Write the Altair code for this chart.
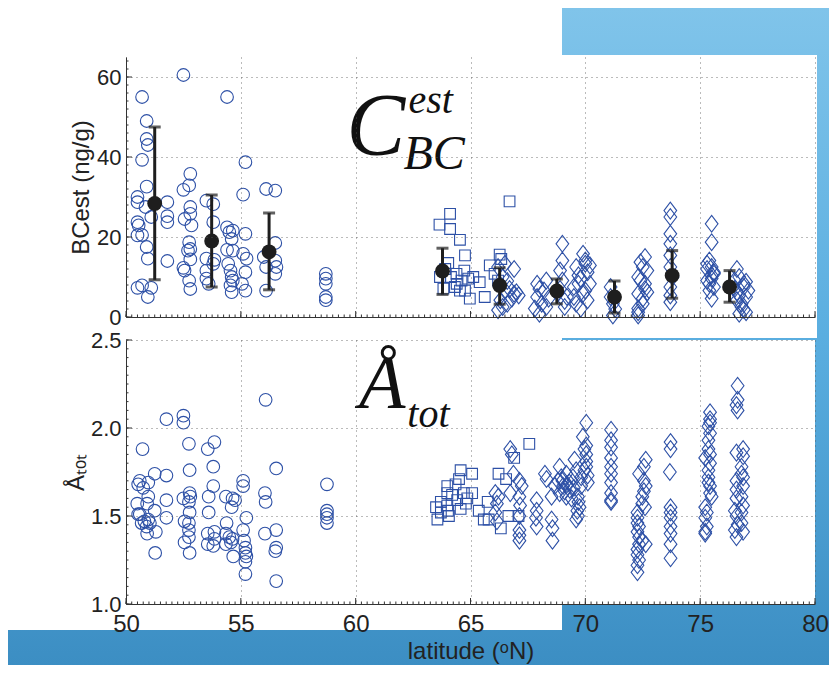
import altair as alt
import pandas as pd
import numpy as np

BLUE = "#2d50a6"
DARK = "#1e1e1e"

# ---------------- top panel (BCest, ng/g) ----------------
c_top_lat = [50.7, 52.5, 54.4, 50.9, 50.9, 50.95, 50.7, 50.9, 50.5, 50.5, 50.85, 51.1, 51.8, 51.8, 51.8,
             50.5, 50.55, 50.5, 50.7, 50.9, 50.95, 51.8, 50.5, 50.7, 51.1, 50.95,
             52.5, 52.8, 52.75, 52.8, 52.8, 52.55, 52.85, 52.75, 52.8, 52.7, 52.8, 52.5, 52.55, 52.75, 52.8,
             53.5, 53.8, 53.8, 53.5, 53.85, 53.8, 53.5, 53.5, 53.6,
             54.4, 54.5, 54.65, 54.6, 54.4, 54.65, 54.45, 54.55, 54.6, 54.65, 54.55, 54.6,
             55.2, 55.1, 55.2, 55.1, 55.25, 55.2, 55.05, 55.2,
             56.1, 56.5, 56.5, 56.0, 56.5, 56.55, 56.1, 56.5, 56.1,
             58.7, 58.7, 58.7, 58.7, 58.7]
c_top_val = [55.0, 60.5, 55.0, 49.0, 44.5, 43.0, 39.3, 32.6, 30.0, 28.7, 27.5, 25.0, 28.7, 25.2, 23.7,
             23.7, 22.9, 20.4, 20.5, 17.5, 14.6, 14.0, 7.3, 7.9, 7.3, 5.0,
             31.8, 35.8, 32.9, 27.5, 25.8, 24.5, 22.9, 18.7, 17.0, 16.6, 14.4, 12.3, 11.6, 9.1, 7.0,
             29.1, 28.2, 23.7, 14.6, 14.3, 13.3, 11.6, 9.6, 8.3,
             22.4, 21.2, 21.6, 19.5, 16.8, 16.6, 13.3, 11.6, 10.0, 9.1, 7.9, 6.2,
             38.7, 30.6, 20.8, 15.8, 14.6, 11.2, 8.3, 6.6,
             32.0, 31.6, 18.5, 15.0, 14.1, 12.5, 12.5, 10.8, 6.6,
             10.8, 9.6, 8.3, 5.0, 4.2]

s_top_lat = [66.7, 64.11, 63.65, 64.11, 64.54, 64.76, 64.03, 64.73, 64.39, 64.15, 64.61, 65.12, 63.82, 64.54,
             64.97, 65.62, 65.84, 66.27, 66.34, 65.4, 66.2, 63.67, 64.32, 64.76, 66.05, 63.9, 64.4, 64.9]
s_top_val = [28.9, 25.8, 23.1, 22.0, 19.3, 15.4, 13.5, 11.6, 10.8, 10.0, 9.1, 10.0, 7.1, 6.6,
             4.6, 5.0, 12.9, 15.6, 14.5, 8.7, 9.1, 10.0, 7.5, 6.6, 10.8, 12.0, 8.3, 9.6]

d_top_lat = [66.2, 66.5, 66.9, 66.4, 66.6, 66.3, 66.7, 66.5, 66.9, 67.1, 66.3, 66.6, 66.2, 66.8, 67.0, 66.4,
             67.9, 68.3, 67.9, 68.0, 68.2, 68.1, 67.8, 68.4, 68.0, 68.3,
             69.0, 69.0, 68.9, 69.0, 69.2, 69.1, 68.9, 69.1, 68.8,
             69.9, 70.0, 69.6, 70.1, 69.8, 69.5, 70.2, 69.9, 69.6, 70.1, 69.7, 70.0, 69.8, 70.2, 69.5, 70.0, 69.7,
             71.1, 71.2, 71.2, 71.1, 71.3,
             72.6, 72.5, 72.3, 72.6, 72.3, 72.5, 72.3, 72.7, 72.4, 72.6, 72.3, 72.5, 72.4, 72.7, 72.3,
             73.7, 73.7, 73.7, 73.7, 73.7, 73.7, 73.7, 73.7, 73.8, 73.7,
             75.5, 75.5, 75.4, 75.5, 75.5, 75.3, 75.6, 75.5, 75.4, 75.3, 75.6, 75.4, 75.5, 75.6, 75.3,
             76.6, 76.7, 76.9, 76.6, 77.0, 76.8, 76.7, 77.0, 76.5, 76.9, 76.6, 77.1, 76.8, 76.5, 77.0, 76.7, 76.9]
d_top_val = [12.5, 13.3, 12.0, 10.0, 9.0, 8.0, 7.0, 6.6, 5.8, 5.4, 4.2, 3.3, 1.7, 4.6, 6.2, 2.5,
             8.3, 9.1, 5.0, 0.8, 6.6, 3.3, 2.1, 4.6, 7.0, 2.5,
             18.3, 14.1, 11.6, 9.1, 5.0, 2.5, 7.0, 4.0, 6.0,
             15.8, 14.1, 12.5, 11.2, 9.6, 7.5, 8.3, 5.8, 3.3, 4.2, 10.4, 6.6, 2.1, 12.9, 5.0, 13.3, 8.3,
             7.5, 3.3, 0.4, 5.0, 2.0,
             15.0, 12.5, 10.0, 8.3, 5.8, 3.3, 0.4, 11.6, 13.7, 7.0, 2.1, 4.6, 9.1, 6.2, 1.2,
             26.6, 25.0, 20.8, 18.3, 15.4, 12.5, 7.5, 3.7, 10.0, 5.4,
             23.3, 18.7, 14.1, 12.5, 10.4, 9.1, 7.5, 4.6, 6.6, 13.3, 11.2, 8.3, 9.6, 10.8, 12.0,
             12.0, 10.0, 7.5, 6.2, 5.0, 2.5, 0.8, 1.2, 9.1, 8.3, 4.2, 6.6, 3.3, 7.0, 8.8, 5.4, 1.8]

mean_lat = [51.25, 53.73, 56.23, 63.78, 66.27, 68.76, 71.27, 73.78, 76.28]
mean_bc = [28.4, 19.0, 16.3, 11.5, 7.9, 6.5, 5.0, 10.4, 7.5]
err_hi = [47.5, 30.5, 26.0, 17.2, 12.3, 9.5, 9.0, 16.6, 11.6]
err_lo = [9.3, 7.5, 6.8, 5.65, 3.2, 3.3, 1.0, 4.7, 3.7]

# ---------------- bottom panel (A_tot) ----------------
c_bot_lat = [50.72, 51.76, 52.5, 52.5, 52.74, 53.56, 53.85, 53.8, 56.08, 56.54, 51.25, 51.76, 52.77,
             50.53, 50.6, 50.75, 50.97, 50.97, 50.92, 51.25, 50.49, 50.53, 50.6, 50.68, 50.8, 50.97, 50.9,
             51.04, 50.92, 51.3, 51.27, 51.76, 51.76, 52.5, 52.77, 52.8, 52.74, 52.77, 52.55, 52.74, 52.74,
             52.74, 52.55, 52.77, 53.6, 53.6, 53.56, 53.56, 53.8, 53.85, 53.85, 53.8, 54.35, 54.64, 54.75,
             54.6, 54.38, 54.35, 54.5, 54.57, 54.64, 54.35, 54.67, 55.1, 55.1, 55.24, 55.1, 55.14, 55.2,
             55.2, 55.24, 55.2, 55.2, 56.05, 56.08, 56.05, 56.54, 56.54, 56.5, 56.54,
             58.75, 58.75, 58.75, 58.75, 58.75]
c_bot_val = [1.88, 2.05, 2.07, 2.03, 1.91, 1.88, 1.92, 1.78, 2.16, 1.77, 1.74, 1.73, 1.76,
             1.68, 1.70, 1.66, 1.69, 1.61, 1.57, 1.53, 1.57, 1.51, 1.51, 1.46, 1.47, 1.48, 1.44,
             1.46, 1.40, 1.41, 1.29, 1.59, 1.49, 1.60, 1.63, 1.61, 1.58, 1.52, 1.47, 1.46, 1.42,
             1.38, 1.35, 1.29, 1.61, 1.52, 1.40, 1.34, 1.67, 1.41, 1.37, 1.33, 1.61, 1.60, 1.59,
             1.55, 1.46, 1.40, 1.38, 1.35, 1.37, 1.34, 1.27, 1.70, 1.67, 1.49, 1.42, 1.36, 1.32,
             1.29, 1.27, 1.24, 1.17, 1.63, 1.58, 1.40, 1.42, 1.32, 1.30, 1.13,
             1.68, 1.53, 1.51, 1.49, 1.46]

s_bot_lat = [67.56, 63.56, 64.06, 63.71, 63.99, 63.99, 63.99, 64.02, 64.35, 64.57, 64.5, 64.42, 64.71,
             64.86, 65.07, 65.07, 65.36, 65.58, 65.79, 65.75, 66.22, 66.32, 66.55, 66.65, 66.9, 67.09,
             63.71, 64.57, 63.5, 64.2, 64.8]
s_bot_val = [1.91, 1.48, 1.50, 1.58, 1.67, 1.63, 1.56, 1.53, 1.68, 1.76, 1.71, 1.59, 1.63,
             1.60, 1.74, 1.63, 1.53, 1.48, 1.48, 1.58, 1.74, 1.43, 1.71, 1.50, 1.83, 1.50,
             1.52, 1.54, 1.55, 1.62, 1.57]

d_bot_lat = [66.08, 66.15, 66.08, 66.15, 66.22,
             66.73, 66.8, 66.73, 66.87,
             67.13, 67.23, 67.13, 67.16, 67.13, 67.13, 67.13, 67.13,
             67.88, 67.88, 67.85, 67.88,
             68.24, 68.31, 68.53, 68.53, 68.57, 68.57,
             68.88, 68.81, 69.03, 69.17, 69.32, 69.46, 69.53, 69.68, 69.75, 69.6, 69.68, 68.88, 69.17, 68.67,
             69.82, 69.82, 69.0, 69.3, 69.1, 69.5, 69.4, 68.95, 69.2, 69.6, 69.7, 69.65,
             70.04, 69.89, 70.04, 70.04, 70.04, 70.11, 69.96, 70.04, 69.96, 70.1,
             71.12, 71.12, 71.12, 71.12, 71.12, 71.12, 71.12, 71.12, 71.12, 71.12,
             72.63, 72.34, 72.55, 72.63, 72.48, 72.27, 72.27, 72.27, 72.34, 72.27, 72.34, 72.27, 72.63,
             72.48, 72.55, 72.27, 72.34, 72.27, 72.55, 72.48, 72.27, 72.34, 72.6,
             73.71, 73.71, 73.68, 73.71, 73.71, 73.71, 73.71, 73.71, 73.71, 73.71,
             75.43, 75.43, 75.36, 75.43, 75.36, 75.22, 75.43, 75.36, 75.43, 75.5, 75.22, 75.22, 75.29,
             75.22, 75.43, 75.36, 75.43, 75.36, 75.43, 75.29, 75.36, 75.22,
             76.63, 76.63, 76.58, 76.63, 76.58, 76.87, 76.8, 76.87, 76.58, 76.58, 76.8, 76.87, 76.51,
             76.58, 76.8, 76.51, 76.87, 76.58, 76.8, 76.87, 76.58, 76.8, 76.63, 76.87]
d_bot_val = [1.63, 1.57, 1.52, 1.47, 1.61,
             1.88, 1.85, 1.63, 1.74,
             1.70, 1.67, 1.61, 1.56, 1.50, 1.42, 1.39, 1.36,
             1.59, 1.53, 1.49, 1.44,
             1.74, 1.71, 1.61, 1.48, 1.43, 1.36,
             1.78, 1.70, 1.67, 1.74, 1.65, 1.72, 1.82, 1.61, 1.55, 1.48, 1.50, 1.63, 1.61, 1.67,
             1.72, 1.67, 1.70, 1.69, 1.64, 1.66, 1.60, 1.72, 1.68, 1.76, 1.58, 1.53,
             2.03, 1.95, 1.90, 1.81, 1.78, 1.69, 1.88, 1.85, 1.76, 1.73,
             1.99, 1.93, 1.89, 1.83, 1.78, 1.74, 1.69, 1.63, 1.58, 1.59,
             1.82, 1.74, 1.70, 1.67, 1.61, 1.52, 1.46, 1.41, 1.34, 1.31, 1.25, 1.18, 1.34,
             1.57, 1.78, 1.49, 1.38, 1.28, 1.64, 1.36, 1.22, 1.44, 1.55,
             1.92, 1.88, 1.75, 1.55, 1.49, 1.44, 1.40, 1.34, 1.26, 1.52,
             2.09, 2.05, 2.01, 1.97, 1.88, 1.83, 1.80, 1.72, 1.67, 1.61, 1.55, 1.49, 1.44,
             1.40, 2.03, 1.93, 1.85, 1.76, 1.63, 1.52, 1.69, 1.41,
             2.24, 2.16, 2.13, 2.10, 1.86, 1.88, 1.78, 1.72, 1.70, 1.65, 1.61, 1.56, 1.53,
             1.50, 1.46, 1.42, 1.41, 1.38, 1.74, 1.67, 1.60, 1.52, 1.45, 1.84]

# axis ticks
x_major = [50, 55, 60, 65, 70, 75, 80]
x_minor = list(np.arange(50, 80.01, 0.25))
y1_major = [0, 20, 40, 60]
y1_minor = list(np.arange(0, 65.01, 2))
y2_major = [1.0, 1.5, 2.0, 2.5]
y2_minor = list(np.arange(1.0, 2.501, 0.05))

# annotation text
ann_top = pd.DataFrame({"lat": [59.6, 62.3, 62.08], "val": [40.8, 51.0, 37.1],
                        "txt": ["C", "est", "BC"], "fs": [88, 40, 48]})
ann_bot = pd.DataFrame({"lat": [60.15, 62.25], "val": [2.114, 2.006],
                        "txt": ["Å", "tot"], "fs": [76, 40]})

W, H1, H2 = 689, 260, 264
FONT = "Liberation Sans"
xs = alt.Scale(domain=[50, 80], nice=False, zero=False)
y1s = alt.Scale(domain=[0, 65], nice=False)
y2s = alt.Scale(domain=[1.0, 2.5], nice=False)
DIAMOND = "M-0.76,0L0,-1L0.76,0L0,1Z"

def df(lat, val):
    return pd.DataFrame({"lat": lat, "val": val})

one = pd.DataFrame({"k": [0]})

def ax_x(show):
    if show:
        return alt.Axis(values=x_major, grid=True, ticks=False, labels=True, title="latitude (ᵒN)",
                        labelFontSize=24, titleFontSize=24, labelPadding=8, titlePadding=3,
                        labelFlush=False, zindex=1)
    return alt.Axis(values=x_major, grid=True, ticks=False, labels=False, title=None, zindex=1)

def ax_y(vals, title, fmt, tpad):
    return alt.Axis(values=vals, grid=True, ticks=False, title=title, format=fmt,
                    labelFontSize=22, titleFontSize=24, labelPadding=5, titlePadding=tpad,
                    labelFlush=False, zindex=1)

# decorative background panels (slide look)
bg_grad = alt.Chart(one).mark_rect(
    fill=alt.Gradient(gradient="linear",
                      stops=[alt.GradientStop(color="#80c4ea", offset=0),
                             alt.GradientStop(color="#5aaee0", offset=0.5),
                             alt.GradientStop(color="#3c8ec3", offset=1)],
                      x1=0, x2=0, y1=0, y2=1)
).encode(x=alt.value(-118), x2=alt.value(703), y=alt.value(-49), y2=alt.value(608))
bg_white1 = alt.Chart(one).mark_rect(fill="white").encode(
    x=alt.value(-118), x2=alt.value(436), y=alt.value(-49), y2=alt.value(573))
bg_white2 = alt.Chart(one).mark_rect(fill="white").encode(
    x=alt.value(430), x2=alt.value(691), y=alt.value(-2), y2=alt.value(281))

def tick_layers(H, ymin, ymaj, ys):
    xm = alt.Chart(pd.DataFrame({"t": x_minor})).mark_rule(color="#333", strokeWidth=1).encode(
        x=alt.X("t:Q", scale=xs), y=alt.value(H), y2=alt.value(H - 2.5))
    xM = alt.Chart(pd.DataFrame({"t": x_major})).mark_rule(color="#333", strokeWidth=1).encode(
        x=alt.X("t:Q", scale=xs), y=alt.value(H), y2=alt.value(H - 6))
    ym = alt.Chart(pd.DataFrame({"t": ymin})).mark_rule(color="#333", strokeWidth=1).encode(
        y=alt.Y("t:Q", scale=ys), x=alt.value(0), x2=alt.value(2.5))
    yM = alt.Chart(pd.DataFrame({"t": ymaj})).mark_rule(color="#333", strokeWidth=1).encode(
        y=alt.Y("t:Q", scale=ys), x=alt.value(0), x2=alt.value(6))
    return [xm, xM, ym, yM]

def pts(data, shape, size, ys, yax, xax):
    return alt.Chart(data).mark_point(shape=shape, filled=False, size=size, color=BLUE,
                                      strokeWidth=1.1, opacity=1).encode(
        x=alt.X("lat:Q", scale=xs, axis=xax),
        y=alt.Y("val:Q", scale=ys, axis=yax))

# ---- top ----
yax1 = ax_y(y1_major, "BCest (ng/g)", "d", 3)
xax1 = ax_x(False)
top_c = pts(df(c_top_lat, c_top_val), "circle", 160, y1s, yax1, xax1)
top_s = pts(df(s_top_lat, s_top_val), "square", 115, y1s, yax1, xax1)
top_d = pts(df(d_top_lat, d_top_val), DIAMOND, 280, y1s, yax1, xax1)

means = pd.DataFrame({"lat": mean_lat, "val": mean_bc, "lo": err_lo, "hi": err_hi})
eb = alt.Chart(means).mark_rule(color=DARK, strokeWidth=3).encode(
    x=alt.X("lat:Q", scale=xs), y=alt.Y("lo:Q", scale=y1s), y2="hi:Q")
cap_lo = alt.Chart(means).mark_tick(color=DARK, thickness=3, size=12, orient="horizontal").encode(
    x=alt.X("lat:Q", scale=xs), y=alt.Y("lo:Q", scale=y1s))
cap_hi = alt.Chart(means).mark_tick(color=DARK, thickness=3, size=12, orient="horizontal").encode(
    x=alt.X("lat:Q", scale=xs), y=alt.Y("hi:Q", scale=y1s))
mpts = alt.Chart(means).mark_point(shape="circle", filled=True, size=220, color=DARK, opacity=1).encode(
    x=alt.X("lat:Q", scale=xs), y=alt.Y("val:Q", scale=y1s))

txt_top = alt.Chart(ann_top).mark_text(font="Liberation Serif", fontStyle="italic", align="left",
                                       baseline="alphabetic", color="#111").encode(
    x=alt.X("lat:Q", scale=xs), y=alt.Y("val:Q", scale=y1s), text="txt:N",
    size=alt.Size("fs:Q", scale=None, legend=None))

top = alt.layer(bg_grad, bg_white1, bg_white2, top_c, top_s, top_d, eb, cap_lo, cap_hi, mpts, txt_top,
                *tick_layers(H1, y1_minor, y1_major, y1s)).properties(width=W, height=H1)

# ---- bottom ----
yax2 = ax_y(y2_major, "Åₜₒₜ", ".1f", 2)
xax2 = ax_x(True)
bot_c = pts(df(c_bot_lat, c_bot_val), "circle", 160, y2s, yax2, xax2)
bot_s = pts(df(s_bot_lat, s_bot_val), "square", 115, y2s, yax2, xax2)
bot_d = pts(df(d_bot_lat, d_bot_val), DIAMOND, 280, y2s, yax2, xax2)
txt_bot = alt.Chart(ann_bot).mark_text(font="Liberation Serif", fontStyle="italic", align="left",
                                       baseline="alphabetic", color="#111").encode(
    x=alt.X("lat:Q", scale=xs), y=alt.Y("val:Q", scale=y2s), text="txt:N",
    size=alt.Size("fs:Q", scale=None, legend=None))

bottom = alt.layer(bot_c, bot_s, bot_d, txt_bot,
                   *tick_layers(H2, y2_minor, y2_major, y2s)).properties(width=W, height=H2)

chart = alt.vconcat(top, bottom, spacing=23, bounds="flush").properties(
    padding={"left": 0, "top": 0, "right": 0, "bottom": 0},
    background="#3c8ec3"
).configure_view(fill="white", stroke=None).configure_axis(
    labelFont=FONT, titleFont=FONT, labelColor="#222", titleColor="#222",
    titleFontWeight="normal", domainColor="#333", domainWidth=1,
    gridColor="#555", gridDash=[1, 4], gridWidth=1, gridOpacity=0.8
)

chart.save("out.html", embed_options={"renderer": "svg", "actions": False})
